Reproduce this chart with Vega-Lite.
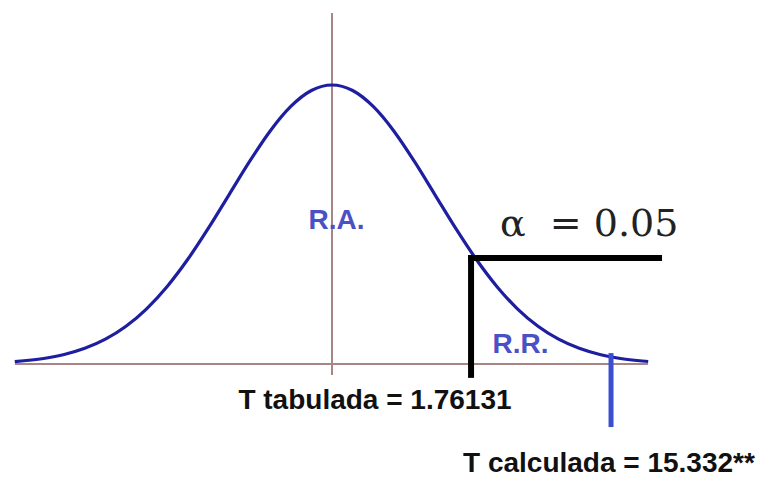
{
  "$schema": "https://vega.github.io/schema/vega-lite/v6.json",
  "width": 761,
  "height": 479,
  "padding": 0,
  "autosize": {"type": "none"},
  "background": "white",
  "config": {"view": {"stroke": null}},
  "datasets": {
    "curve": [
      {"z": -3.08, "f": 0.0087}, {"z": -2.8, "f": 0.0198}, {"z": -2.6, "f": 0.034}, {"z": -2.4, "f": 0.0561},
      {"z": -2.2, "f": 0.0889}, {"z": -2.0, "f": 0.1353}, {"z": -1.8, "f": 0.1979}, {"z": -1.6, "f": 0.278},
      {"z": -1.4, "f": 0.3753}, {"z": -1.2, "f": 0.4868}, {"z": -1.0, "f": 0.6065}, {"z": -0.8, "f": 0.7261},
      {"z": -0.6, "f": 0.8353}, {"z": -0.4, "f": 0.9231}, {"z": -0.2, "f": 0.9802}, {"z": 0.0, "f": 1.0},
      {"z": 0.2, "f": 0.9802}, {"z": 0.4, "f": 0.9231}, {"z": 0.6, "f": 0.8353}, {"z": 0.8, "f": 0.7261},
      {"z": 1.0, "f": 0.6065}, {"z": 1.2, "f": 0.4868}, {"z": 1.4, "f": 0.3753}, {"z": 1.6, "f": 0.278},
      {"z": 1.8, "f": 0.1979}, {"z": 2.0, "f": 0.1353}, {"z": 2.2, "f": 0.0889}, {"z": 2.4, "f": 0.0561},
      {"z": 2.6, "f": 0.034}, {"z": 2.8, "f": 0.0198}, {"z": 3.07, "f": 0.009}
    ],
    "axes": [
      {"x": -3.078, "x2": 3.068, "y": 0, "y2": 0},
      {"x": 0, "x2": 0, "y": 1.258, "y2": -0.039}
    ],
    "critical": [
      {"x": 1.35, "x2": 1.35, "y": 0.38, "y2": -0.039},
      {"x": 1.35, "x2": 3.175, "y": 0.38, "y2": 0.38}
    ],
    "calc": [
      {"x": 2.709, "x2": 2.709, "y": 0.039, "y2": -0.226}
    ],
    "regions": [
      {"label": "R.A.", "x": 0.044, "y": 0.484},
      {"label": "R.R.", "x": 1.83, "y": 0.039}
    ],
    "alpha": [
      {"label": "α\u00a0\u00a0= 0.05", "x": 1.631, "y": 0.459}
    ],
    "tab": [
      {"label": "T tabulada = 1.76131", "x": 0.417, "y": -0.161}
    ],
    "calclabel": [
      {"label": "T calculada = 15.332**", "x": 1.272, "y": -0.387}
    ]
  },
  "layer": [
    {
      "data": {"name": "axes"},
      "mark": {"type": "rule", "color": "#a88686", "strokeWidth": 2},
      "encoding": {
        "x": {"field": "x", "type": "quantitative", "scale": {"domain": [-3.2233, 4.165], "nice": false, "zero": false}, "axis": null},
        "x2": {"field": "x2"},
        "y": {"field": "y", "type": "quantitative", "scale": {"domain": [-0.4122, 1.3047], "nice": false, "zero": false}, "axis": null},
        "y2": {"field": "y2"}
      }
    },
    {
      "data": {"name": "curve"},
      "mark": {"type": "line", "color": "#1e1ea0", "strokeWidth": 3.2, "interpolate": "monotone"},
      "encoding": {
        "x": {"field": "z", "type": "quantitative"},
        "y": {"field": "f", "type": "quantitative"}
      }
    },
    {
      "data": {"name": "critical"},
      "mark": {"type": "rule", "color": "#000000", "strokeWidth": 6, "strokeCap": "square"},
      "encoding": {
        "x": {"field": "x", "type": "quantitative"},
        "x2": {"field": "x2"},
        "y": {"field": "y", "type": "quantitative"},
        "y2": {"field": "y2"}
      }
    },
    {
      "data": {"name": "calc"},
      "mark": {"type": "rule", "color": "#3a4fd0", "strokeWidth": 5},
      "encoding": {
        "x": {"field": "x", "type": "quantitative"},
        "x2": {"field": "x2"},
        "y": {"field": "y", "type": "quantitative"},
        "y2": {"field": "y2"}
      }
    },
    {
      "data": {"name": "regions"},
      "mark": {"type": "text", "font": "Liberation Sans", "fontWeight": "bold", "fontSize": 28, "color": "#4b50c4", "align": "center", "baseline": "alphabetic"},
      "encoding": {
        "x": {"field": "x", "type": "quantitative"},
        "y": {"field": "y", "type": "quantitative"},
        "text": {"field": "label"}
      }
    },
    {
      "data": {"name": "alpha"},
      "mark": {"type": "text", "font": "DejaVu Serif", "fontSize": 38, "color": "#222222", "align": "left", "baseline": "alphabetic"},
      "encoding": {
        "x": {"field": "x", "type": "quantitative"},
        "y": {"field": "y", "type": "quantitative"},
        "text": {"field": "label"}
      }
    },
    {
      "data": {"name": "tab"},
      "mark": {"type": "text", "font": "Liberation Sans", "fontWeight": "bold", "fontSize": 28, "color": "#111111", "align": "center", "baseline": "alphabetic"},
      "encoding": {
        "x": {"field": "x", "type": "quantitative"},
        "y": {"field": "y", "type": "quantitative"},
        "text": {"field": "label"}
      }
    },
    {
      "data": {"name": "calclabel"},
      "mark": {"type": "text", "font": "Liberation Sans", "fontWeight": "bold", "fontSize": 28, "color": "#111111", "align": "left", "baseline": "alphabetic"},
      "encoding": {
        "x": {"field": "x", "type": "quantitative"},
        "y": {"field": "y", "type": "quantitative"},
        "text": {"field": "label"}
      }
    }
  ]
}
